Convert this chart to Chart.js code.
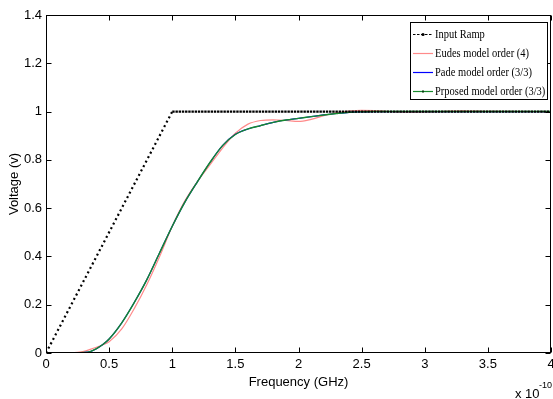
<!DOCTYPE html>
<html>
<head>
<meta charset="utf-8">
<script src="https://cdn.jsdelivr.net/npm/chart.js@4/dist/chart.umd.min.js"></script>
<style>
html,body{margin:0;padding:0;background:#fff;}
canvas{display:block;}
</style>
</head>
<body>
<canvas id="c" width="553" height="399"></canvas>
<script>
// ---- data (time in units of 1e-10 s) ----
const rampT = [0, 1, 4];
const rampV = [0, 1, 1];

const timeT    = [0, 0.2, 0.25, 0.3, 0.35, 0.4, 0.45, 0.5, 0.6, 0.7, 0.8, 0.9, 1.0, 1.1, 1.2, 1.3, 1.4, 1.5, 1.6, 1.7, 1.8, 1.9, 2.0, 2.1, 2.2, 2.3, 2.4, 2.5, 2.6, 2.8, 2.9, 3.1, 3.3, 3.5, 4.0];
const eudesV   = [0, 0.001, 0.003, 0.007, 0.015, 0.024, 0.034, 0.047, 0.10, 0.185, 0.285, 0.40, 0.525, 0.63, 0.71, 0.78, 0.85, 0.91, 0.948, 0.963, 0.966, 0.963, 0.959, 0.968, 0.983, 0.995, 1.002, 1.005, 1.004, 0.998, 0.997, 1.0, 1.003, 1.001, 1.0];
const padeV    = [0, 0.0, 0.001, 0.002, 0.006, 0.018, 0.035, 0.058, 0.125, 0.21, 0.305, 0.415, 0.525, 0.625, 0.71, 0.79, 0.86, 0.906, 0.928, 0.942, 0.955, 0.965, 0.972, 0.979, 0.986, 0.992, 0.997, 0.999, 1.0, 1.0, 1.0, 1.0, 1.0, 1.0, 1.0];
const proposedV= [0, 0.0, 0.001, 0.002, 0.006, 0.018, 0.035, 0.058, 0.125, 0.21, 0.305, 0.415, 0.525, 0.625, 0.71, 0.79, 0.86, 0.905, 0.928, 0.942, 0.955, 0.965, 0.972, 0.979, 0.986, 0.992, 0.997, 0.999, 1.0, 1.0, 1.0, 1.0, 1.0, 1.0, 1.0];

const xTickLabels = ['0', '0.5', '1', '1.5', '2', '2.5', '3', '3.5', '4'];
const yTickLabels = ['0', '0.2', '0.4', '0.6', '0.8', '1', '1.2', '1.4'];
const seriesNames = ['Input Ramp', 'Eudes model order (4)', 'Pade model order (3/3)', 'Prposed model order (3/3)'];

const pts = (xs, ys) => xs.map((x, i) => ({x: x, y: ys[i]}));

const SANS = "'Liberation Sans', Arial, Helvetica, sans-serif";
const SERIF = "'Liberation Serif', 'Times New Roman', serif";

const whiteBg = {
  id: 'whiteBg',
  beforeDraw(chart) {
    const ctx = chart.ctx;
    ctx.save();
    ctx.fillStyle = '#fff';
    ctx.fillRect(0, 0, chart.width, chart.height);
    ctx.restore();
  }
};

const frame = {
  id: 'frame',
  afterDraw(chart) {
    const ctx = chart.ctx;
    const a = chart.chartArea;
    const xs = chart.scales.x, ys = chart.scales.y;
    ctx.save();
    ctx.strokeStyle = '#000';
    ctx.lineWidth = 1;
    const L = Math.round(a.left) + 0.5, R = Math.round(a.right) - 0.5;
    const T = Math.round(a.top) + 0.5, B = Math.round(a.bottom) - 0.5;
    ctx.strokeRect(L, T, R - L, B - T);
    const tl = 5;
    ctx.beginPath();
    xs.ticks.forEach(t => {
      const px = Math.round(xs.getPixelForValue(t.value)) + 0.5;
      ctx.moveTo(px, B); ctx.lineTo(px, B - tl);
      ctx.moveTo(px, T); ctx.lineTo(px, T + tl);
    });
    ys.ticks.forEach(t => {
      const py = Math.round(ys.getPixelForValue(t.value)) + 0.5;
      ctx.moveTo(L, py); ctx.lineTo(L + tl, py);
      ctx.moveTo(R, py); ctx.lineTo(R - tl, py);
    });
    ctx.stroke();
    // exponent label
    ctx.fillStyle = '#000';
    ctx.textBaseline = 'alphabetic';
    ctx.font = '13px ' + SANS;
    ctx.fillText('x 10', 515, 398);
    ctx.font = '9px ' + SANS;
    ctx.fillText('-10', 539, 388);
    ctx.restore();
  }
};

const legendBox = {
  id: 'legendBox',
  afterDraw(chart) {
    const ctx = chart.ctx;
    const bx = 410.5, by = 22.5, bw = 137, bh = 77;
    ctx.save();
    ctx.fillStyle = '#fff';
    ctx.fillRect(bx, by, bw, bh);
    ctx.strokeStyle = '#000';
    ctx.lineWidth = 1;
    ctx.strokeRect(bx, by, bw, bh);
    ctx.font = '12px ' + SERIF;
    ctx.textBaseline = 'middle';
    // condensed text, as in the reference
    const sx = 94 / ctx.measureText(chart.data.datasets[1].label).width;
    chart.data.datasets.forEach((ds, i) => {
      const y = Math.round(by + 11 + i * 19.2) + 0.5;
      ctx.strokeStyle = ds.borderColor;
      ctx.lineWidth = 1.2;
      ctx.setLineDash(i === 0 ? [2.5, 1.5] : []);
      ctx.beginPath();
      ctx.moveTo(413, y); ctx.lineTo(433, y);
      ctx.stroke();
      ctx.setLineDash([]);
      if (i === 0) {
        ctx.fillStyle = '#000';
        ctx.beginPath(); ctx.arc(423, y, 1.6, 0, Math.PI * 2); ctx.fill();
      }
      if (i === 3) {
        ctx.fillStyle = '#0a3d12';
        ctx.fillRect(422, y - 1, 2, 2);
      }
      ctx.fillStyle = '#000';
      ctx.save();
      ctx.translate(435, y + 0.5);
      ctx.scale(sx, 1);
      ctx.fillText(ds.label, 0, 0);
      ctx.restore();
    });
    ctx.restore();
  }
};

new Chart(document.getElementById('c'), {
  type: 'line',
  data: {
    datasets: [
      {
        label: seriesNames[0],
        data: pts(rampT, rampV),
        borderColor: '#000',
        borderWidth: 2.2,
        pointRadius: 0,
        tension: 0,
        order: 0,
        segment: {
          borderDash: ctx => ctx.p0DataIndex === 0 ? [2, 3] : [2.4, 0.8]
        }
      },
      {
        label: seriesNames[1],
        data: pts(timeT, eudesV),
        borderColor: '#ff8a8a',
        borderWidth: 1.2,
        pointRadius: 0,
        cubicInterpolationMode: 'monotone',
        order: 3
      },
      {
        label: seriesNames[2],
        data: pts(timeT, padeV),
        borderColor: '#0000ff',
        borderWidth: 1.2,
        pointRadius: 0,
        cubicInterpolationMode: 'monotone',
        order: 2
      },
      {
        label: seriesNames[3],
        data: pts(timeT, proposedV),
        borderColor: '#168a2c',
        borderWidth: 1.4,
        pointRadius: 0,
        cubicInterpolationMode: 'monotone',
        order: 1
      }
    ]
  },
  options: {
    responsive: false,
    animation: false,
    events: [],
    layout: { padding: { top: 15, right: 2, bottom: 0, left: 0 } },
    plugins: { legend: { display: false }, tooltip: { enabled: false } },
    scales: {
      x: {
        type: 'linear',
        min: 0, max: 4,
        grid: { display: false, drawTicks: false },
        border: { display: false },
        ticks: {
          stepSize: 0.5,
          padding: 4,
          maxRotation: 0,
          autoSkip: false,
          color: '#000',
          font: { size: 13, family: SANS },
          callback: (v, i) => xTickLabels[i]
        },
        title: {
          display: true,
          text: 'Frequency (GHz)',
          color: '#000',
          font: { size: 13, family: SANS },
          padding: { top: 9, bottom: 9 }
        },
        afterFit(scale) {
          scale.height = 46;
          scale.paddingLeft = 0;
          scale.paddingRight = 0;
        }
      },
      y: {
        type: 'linear',
        min: 0, max: 1.4,
        grid: { display: false, drawTicks: false },
        border: { display: false },
        ticks: {
          stepSize: 0.2,
          padding: 4,
          autoSkip: false,
          color: '#000',
          font: { size: 13, family: SANS },
          callback: (v, i) => yTickLabels[i]
        },
        title: {
          display: true,
          text: 'Voltage (v)',
          color: '#000',
          font: { size: 13, family: SANS },
          padding: { top: 7, bottom: 7 }
        },
        afterFit(scale) {
          scale.width = 46;
          scale.paddingTop = 0;
          scale.paddingBottom = 0;
        }
      }
    }
  },
  plugins: [whiteBg, frame, legendBox]
});
</script>
</body>
</html>
